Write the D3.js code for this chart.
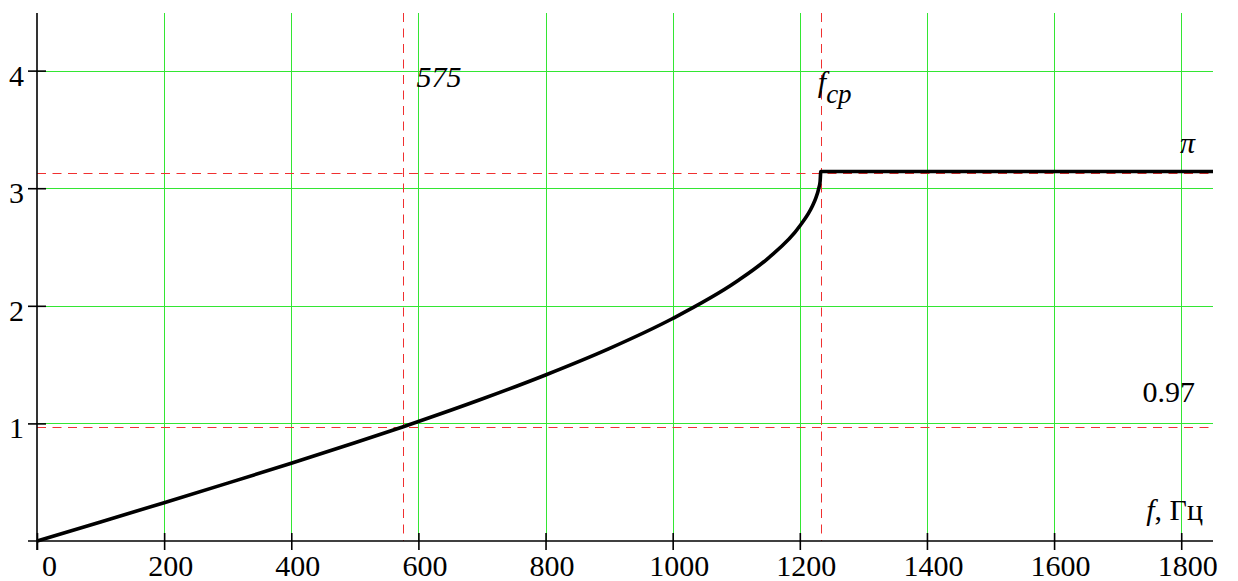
<!DOCTYPE html>
<html>
<head>
<meta charset="utf-8">
<script src="https://cdn.jsdelivr.net/npm/d3@7"></script>
<style>
  html, body { margin: 0; padding: 0; background: #fff; }
  .lbl { font-family: "Liberation Serif", serif; }
</style>
</head>
<body>
<div id="chart"></div>
<script>
// частота, Гц и фаза, рад
const freq  = [0, 100, 200, 300, 400, 500, 575, 600, 700, 800, 900, 1000, 1100, 1150, 1200, 1220, 1225, 1230, 1232, 1233, 1850];
const phase = [0, 0.162, 0.326, 0.492, 0.661, 0.835, 0.970, 1.016, 1.207, 1.412, 1.636, 1.892, 2.204, 2.404, 2.678, 2.851, 2.914, 3.002, 3.061, 3.1416, 3.1416];

const xTicks = [0, 200, 400, 600, 800, 1000, 1200, 1400, 1600, 1800];
const yTicks = [1, 2, 3, 4];

const fMark = 575;      // вертикальная пунктирная
const phiMark = 0.97;   // горизонтальная пунктирная
const fcp = 1233;       // частота среза
const phiMax = 3.1416;  // pi

const W = 1238, H = 581;
const margin = {left: 37, top: 13, right: 25, bottom: 40};
const w = W - margin.left - margin.right;
const h = H - margin.top - margin.bottom;

const svg = d3.select("#chart").append("svg")
    .attr("width", W)
    .attr("height", H);

const g = svg.append("g")
    .attr("transform", `translate(${margin.left},${margin.top})`);

const x = d3.scaleLinear().domain([0, 1850]).range([0, w]);
const y = d3.scaleLinear().domain([0, 4.49]).range([h, 0]);

const green = "#33e633";
const red = "#f03030";
const px = v => Math.round(v) + 0.5;

// сетка
g.selectAll(".vgrid")
    .data(xTicks.filter(d => d > 0))
    .enter().append("line")
    .attr("x1", d => px(x(d))).attr("x2", d => px(x(d)))
    .attr("y1", 0).attr("y2", h)
    .style("stroke", green).style("stroke-width", 1);

g.selectAll(".hgrid")
    .data(yTicks)
    .enter().append("line")
    .attr("x1", 0).attr("x2", w)
    .attr("y1", d => px(y(d))).attr("y2", d => px(y(d)))
    .style("stroke", green).style("stroke-width", 1);

// пунктирные линии
const dashed = [
    {x1: px(x(fMark)), x2: px(x(fMark)), y1: 0, y2: h},
    {x1: px(x(fcp)), x2: px(x(fcp)), y1: 0, y2: h},
    {x1: 0, x2: w, y1: px(y(phiMark)), y2: px(y(phiMark))},
    {x1: 0, x2: w, y1: px(y(phiMax)) + 1, y2: px(y(phiMax)) + 1}
];
g.selectAll(".dash")
    .data(dashed)
    .enter().append("line")
    .attr("x1", d => d.x1).attr("x2", d => d.x2)
    .attr("y1", d => d.y1).attr("y2", d => d.y2)
    .style("stroke", red)
    .style("stroke-width", 1)
    .style("stroke-dasharray", "9,6.5");

// оси
const xAxis = g.append("g")
    .attr("transform", `translate(0,${h})`)
    .attr("font-family", null)
    .call(d3.axisBottom(x).tickValues(xTicks).tickSize(9).tickSizeOuter(0).tickFormat(d3.format("d")));
xAxis.attr("font-family", "Liberation Serif").attr("font-size", 30);
xAxis.select(".domain").attr("d", `M-9,0H${w}`).style("stroke-width", 1.6);
xAxis.selectAll(".tick line").attr("y1", -8).style("stroke-width", 1.6);
xAxis.selectAll(".tick text")
    .attr("class", "lbl")
    .attr("y", 35).attr("dy", null)
    .attr("dx", d => d === 0 ? 12 : 6);

const yAxis = g.append("g")
    .call(d3.axisLeft(y).tickValues(yTicks).tickSize(9).tickSizeOuter(0).tickFormat(d3.format("d")));
yAxis.attr("font-family", "Liberation Serif").attr("font-size", 30);
yAxis.select(".domain").attr("d", `M0,0V${h + 9}`).style("stroke-width", 1.6);
yAxis.selectAll(".tick line").attr("x2", -9).attr("x1", 9).style("stroke-width", 1.6);
yAxis.selectAll(".tick text")
    .attr("class", "lbl")
    .attr("x", -13).attr("dy", 14.5);

// кривая
const line = d3.line()
    .x((d, i) => x(freq[i]))
    .y(d => y(d))
    .curve(d3.curveMonotoneX);

g.append("path")
    .datum(phase)
    .attr("d", line)
    .style("fill", "none")
    .style("stroke", "#000")
    .style("stroke-width", 3.6)
    .style("stroke-linejoin", "round");

// подписи
const label = (tx, ty) => g.append("text")
    .attr("class", "lbl")
    .attr("x", tx).attr("y", ty)
    .attr("font-family", "Liberation Serif")
    .attr("font-size", 30)
    .attr("fill", "#000");

label(x(fMark) + 14, y(4) + 16)
    .attr("font-style", "italic")
    .text("575");

const fc = label(x(fcp) - 3, y(4) + 21).attr("font-style", "italic");
fc.append("tspan").text("f");
fc.append("tspan").attr("dy", 11).attr("font-size", 27).text("cp");

label(w - 18, y(phiMax) - 19)
    .attr("text-anchor", "end")
    .attr("font-style", "italic")
    .text("π");

label(w - 18, y(phiMark) - 25)
    .attr("text-anchor", "end")
    .text("0.97");

const fl = label(w - 10, h - 21).attr("text-anchor", "end");
fl.append("tspan").attr("font-style", "italic").text("f");
fl.append("tspan").text(", Гц");
</script>
</body>
</html>
